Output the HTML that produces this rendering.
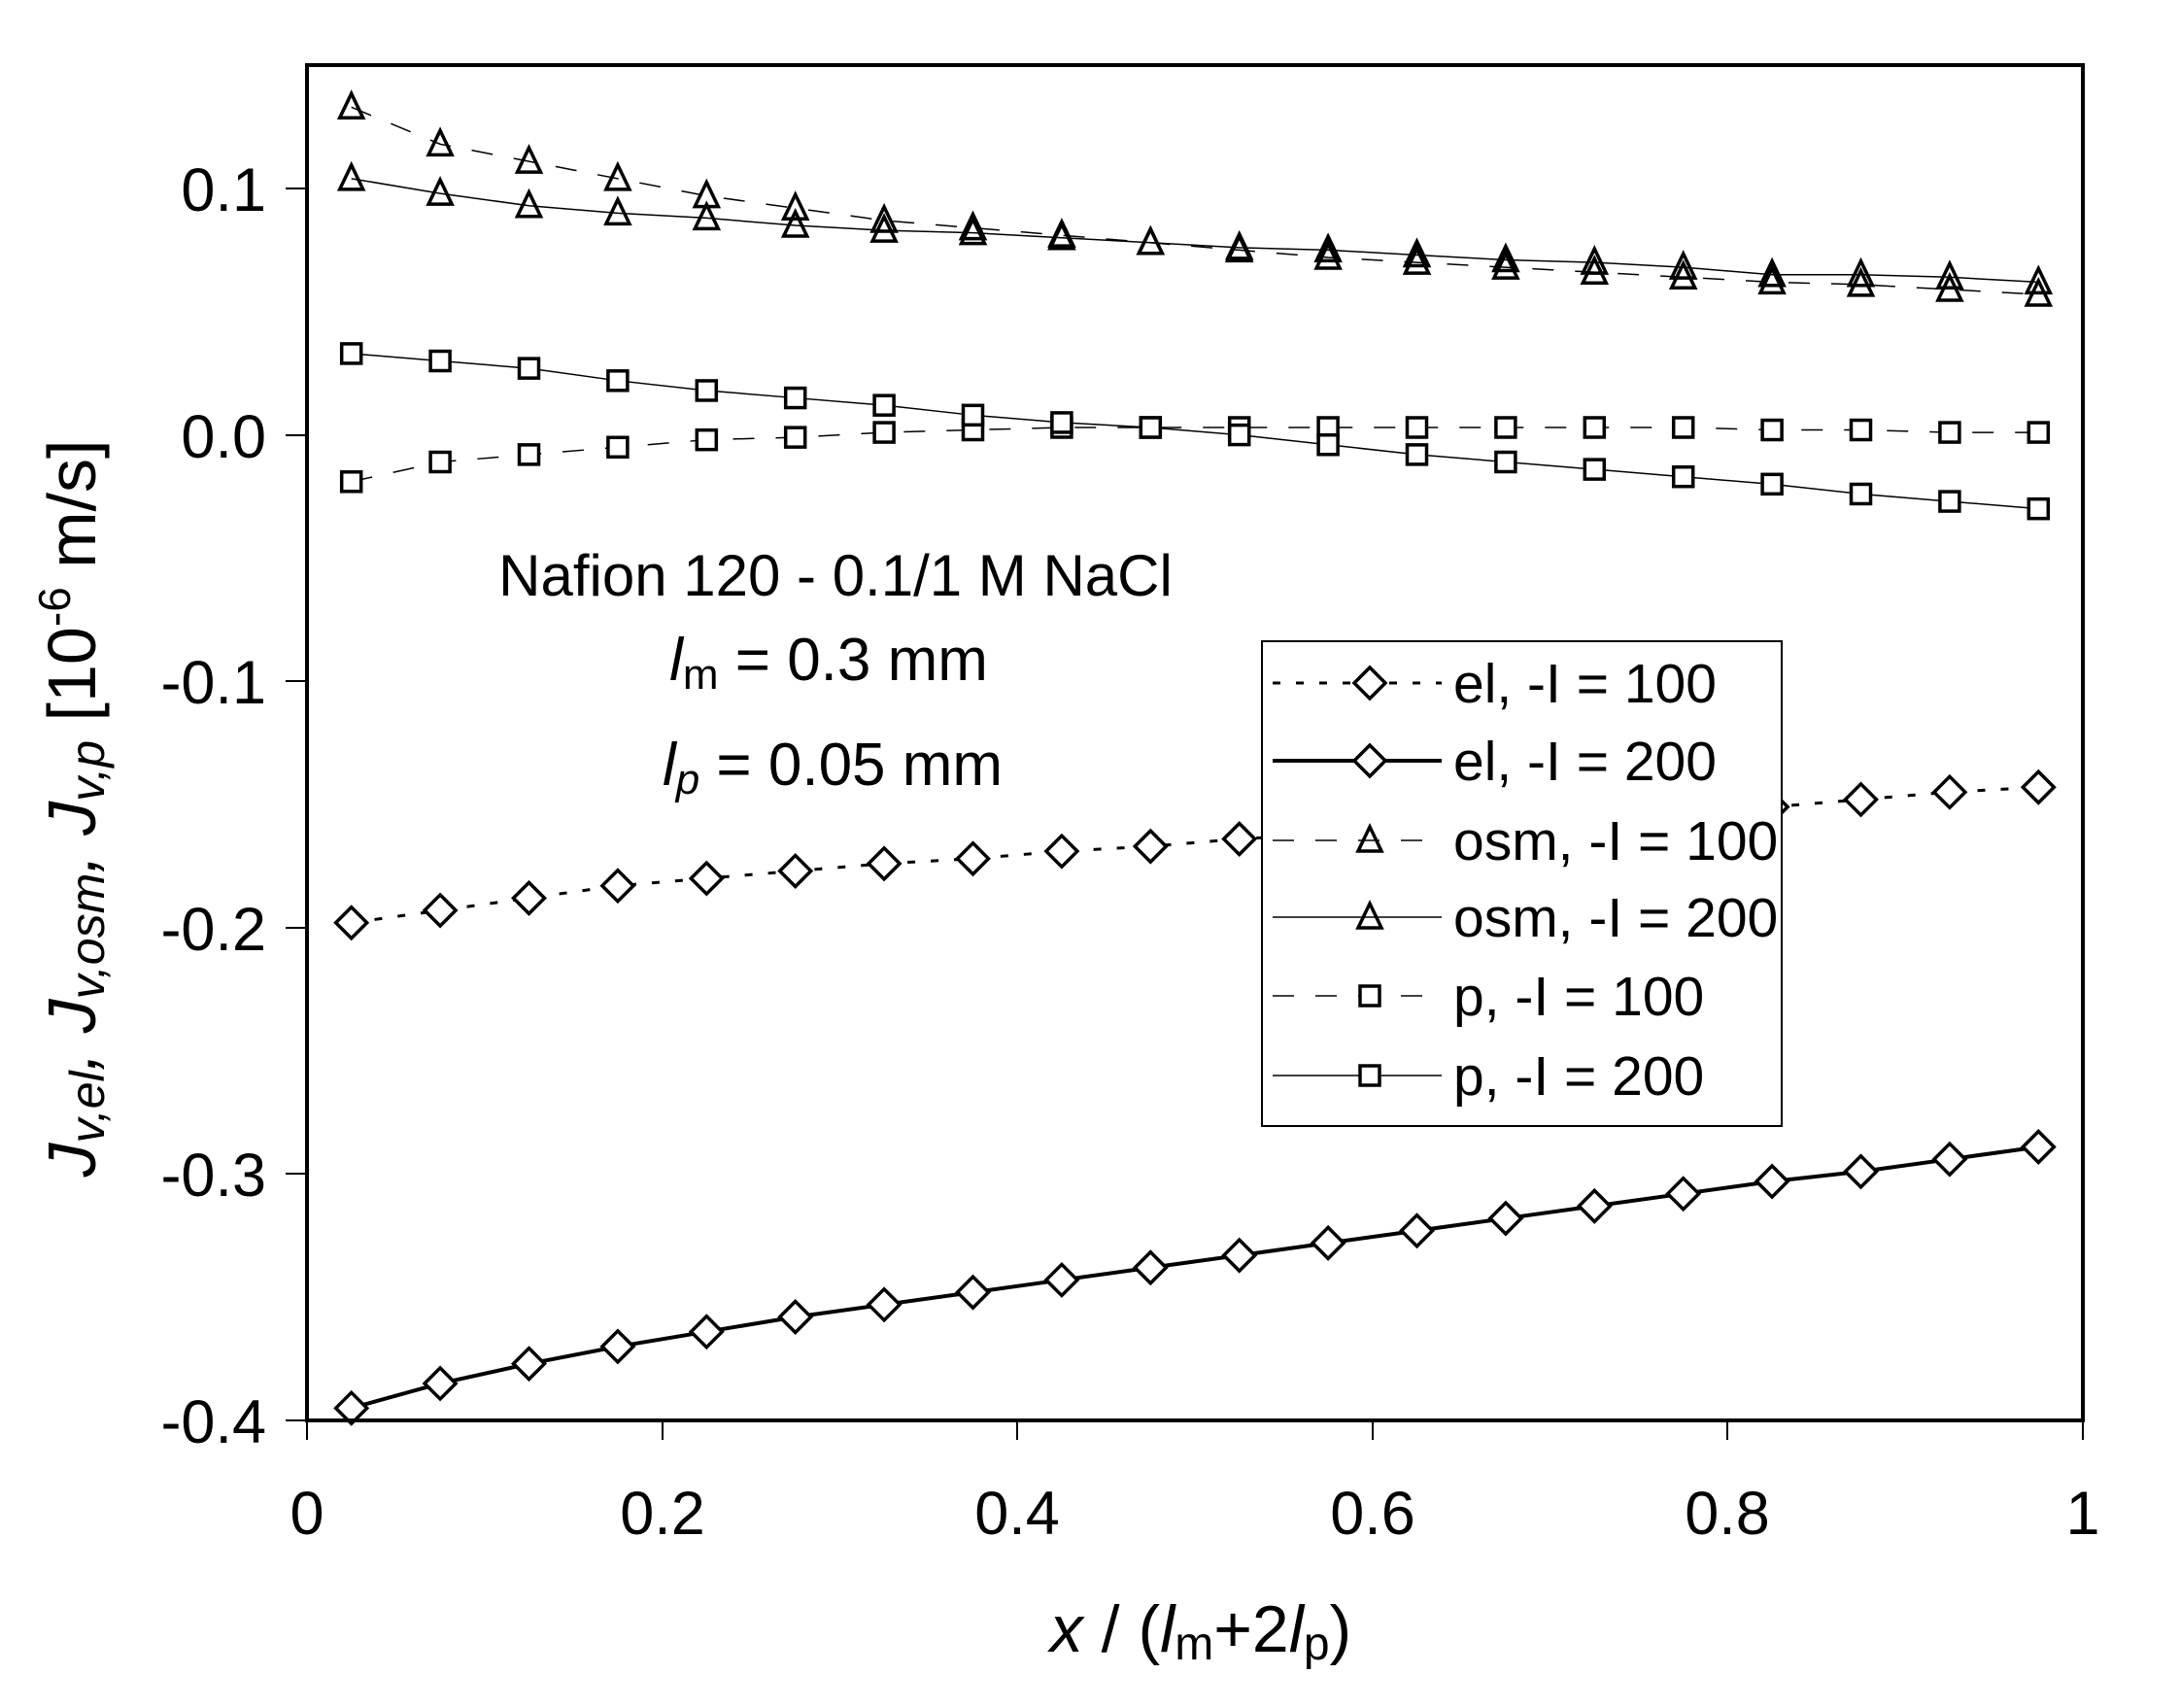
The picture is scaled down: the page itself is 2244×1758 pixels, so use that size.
<!DOCTYPE html>
<html><head><meta charset="utf-8"><style>
html,body{margin:0;padding:0;background:#fff}
svg{display:block}
text{font-family:"Liberation Sans",Arial,sans-serif;fill:#000}
</style></head><body>
<svg id="s" width="2244" height="1758" viewBox="0 0 2244 1758" xmlns="http://www.w3.org/2000/svg">
<rect x="0" y="0" width="2244" height="1758" fill="#fff"/>
<g id="series"></g>
<rect x="316" y="67" width="1828" height="1395" fill="none" stroke="#000" stroke-width="4"/>
<g stroke="#000" stroke-width="2">
<line x1="294" y1="194" x2="316" y2="194"/><line x1="294" y1="448" x2="316" y2="448"/>
<line x1="294" y1="701" x2="316" y2="701"/><line x1="294" y1="955" x2="316" y2="955"/>
<line x1="294" y1="1208" x2="316" y2="1208"/><line x1="294" y1="1462" x2="316" y2="1462"/>
<line x1="316" y1="1462" x2="316" y2="1482"/><line x1="682" y1="1462" x2="682" y2="1482"/>
<line x1="1047" y1="1462" x2="1047" y2="1482"/><line x1="1413" y1="1462" x2="1413" y2="1482"/>
<line x1="1778" y1="1462" x2="1778" y2="1482"/><line x1="2144" y1="1462" x2="2144" y2="1482"/>
</g>
<g font-size="63" text-anchor="end">
<text x="274" y="217">0.1</text><text x="274" y="471">0.0</text>
<text x="274" y="724">-0.1</text><text x="274" y="978">-0.2</text>
<text x="274" y="1231">-0.3</text><text x="274" y="1485">-0.4</text>
</g>
<g font-size="63" text-anchor="middle">
<text x="316" y="1579">0</text><text x="682" y="1579">0.2</text>
<text x="1047" y="1579">0.4</text><text x="1413" y="1579">0.6</text>
<text x="1778" y="1579">0.8</text><text x="2144" y="1579">1</text>
</g>
<text x="1236" y="1700" font-size="68" text-anchor="middle"><tspan font-style="italic">x</tspan> / (<tspan font-style="italic">l</tspan><tspan font-size="48" dy="8">m</tspan><tspan dy="-8">+2</tspan><tspan font-style="italic">l</tspan><tspan font-size="48" dy="8">p</tspan><tspan dy="-8">)</tspan></text>
<text transform="translate(98,832) rotate(-90)" font-size="70" text-anchor="middle"><tspan font-style="italic">J</tspan><tspan font-style="italic" font-size="50" dy="9">v,el</tspan><tspan font-style="italic" dy="-9">, J</tspan><tspan font-style="italic" font-size="50" dy="9">v,osm</tspan><tspan font-style="italic" dy="-9">, J</tspan><tspan font-style="italic" font-size="50" dy="9">v,p</tspan><tspan dy="-9"> [10</tspan><tspan font-size="46" dy="-26">-6</tspan><tspan dy="26"> m/s]</tspan></text>
<text x="860" y="613" font-size="60" text-anchor="middle">Nafion 120 - 0.1/1 M NaCl</text>
<text x="853" y="700" font-size="62" text-anchor="middle"><tspan font-style="italic">l</tspan><tspan font-size="44" dy="9">m</tspan><tspan dy="-9"> = 0.3 mm</tspan></text>
<text x="857" y="808" font-size="62" text-anchor="middle"><tspan font-style="italic">l</tspan><tspan font-style="italic" font-size="44" dy="9">p</tspan><tspan dy="-9"> = 0.05 mm</tspan></text>
<rect x="1299" y="660" width="535" height="499" fill="#fff" stroke="#000" stroke-width="2"/>
<g id="legend"></g>
<g font-size="57">
<text x="1496" y="723">el, -I = 100</text>
<text x="1496" y="803">el, -I = 200</text>
<text x="1496" y="885">osm, -I = 100</text>
<text x="1496" y="964">osm, -I = 200</text>
<text x="1496" y="1045">p, -I = 100</text>
<text x="1496" y="1127">p, -I = 200</text>
</g>
</svg>
<script>
var NS="http://www.w3.org/2000/svg";
function X(x){return 316+1828*x}
function Y(v){return 194+(0.1-v)*2536}
var D={
el100:[-0.198,-0.193,-0.188,-0.183,-0.180,-0.177,-0.174,-0.172,-0.169,-0.167,-0.164,-0.162,-0.160,-0.158,-0.156,-0.154,-0.151,-0.148,-0.145,-0.143],
el200:[-0.395,-0.385,-0.377,-0.370,-0.364,-0.358,-0.353,-0.348,-0.343,-0.338,-0.333,-0.328,-0.323,-0.318,-0.313,-0.308,-0.303,-0.299,-0.294,-0.289],
osm100:[0.133,0.118,0.111,0.104,0.097,0.092,0.087,0.084,0.081,0.078,0.075,0.072,0.070,0.068,0.066,0.064,0.062,0.061,0.059,0.057],
osm200:[0.104,0.098,0.093,0.090,0.088,0.085,0.083,0.082,0.080,0.078,0.076,0.075,0.073,0.071,0.070,0.068,0.065,0.065,0.064,0.062],
p100:[-0.019,-0.011,-0.008,-0.005,-0.002,-0.001,0.001,0.002,0.003,0.003,0.003,0.003,0.003,0.003,0.003,0.003,0.002,0.002,0.001,0.001],
p200:[0.033,0.030,0.027,0.022,0.018,0.015,0.012,0.008,0.005,0.003,0.000,-0.004,-0.008,-0.011,-0.014,-0.017,-0.020,-0.024,-0.027,-0.030]};
var S={el100:{w:3,d:"8,16",m:"d"},el200:{w:4,d:"",m:"d"},osm100:{w:1.5,d:"22,22",m:"t"},osm200:{w:1.5,d:"",m:"t"},p100:{w:1.5,d:"22,22",m:"s"},p200:{w:1.5,d:"",m:"s"}};
function el(t,a,p){var e=document.createElementNS(NS,t);for(var k in a)e.setAttribute(k,a[k]);p.appendChild(e);return e}
function marker(m,x,y,p){
 if(m=="d")el("polygon",{points:(x)+","+(y-16)+" "+(x+16)+","+y+" "+x+","+(y+16)+" "+(x-16)+","+y,fill:"#fff",stroke:"#000","stroke-width":3.5},p);
 else if(m=="t")el("polygon",{points:x+","+(y-14)+" "+(x+12)+","+(y+11)+" "+(x-12)+","+(y+11),fill:"none",stroke:"#000","stroke-width":3.5},p);
 else el("rect",{x:x-10,y:y-10,width:20,height:20,fill:"#fff",stroke:"#000","stroke-width":3.5},p);
}
var g=document.getElementById("series");
var order=["osm100","osm200","p100","p200","el100","el200"];
order.forEach(function(k){
 var pts=D[k].map(function(v,i){return X(0.025+0.05*i)+","+Y(v)}).join(" ");
 var a={points:pts,fill:"none",stroke:"#000","stroke-width":S[k].w};
 if(S[k].d)a["stroke-dasharray"]=S[k].d;
 el("polyline",a,g);
});
order.forEach(function(k){D[k].forEach(function(v,i){marker(S[k].m,X(0.025+0.05*i),Y(v),g)})});
var lg=document.getElementById("legend");
var rows=[["el100",703],["el200",783],["osm100",865],["osm200",944],["p100",1025],["p200",1107]];
rows.forEach(function(r){
 var k=r[0],y=r[1],s=S[k];
 var a={x1:1310,y1:y,x2:1484,y2:y,stroke:"#000","stroke-width":s.w};
 if(s.d)a["stroke-dasharray"]=s.d;
 el("line",a,lg);
 marker(s.m,1410,y,lg);
});
</script>
</body></html>
